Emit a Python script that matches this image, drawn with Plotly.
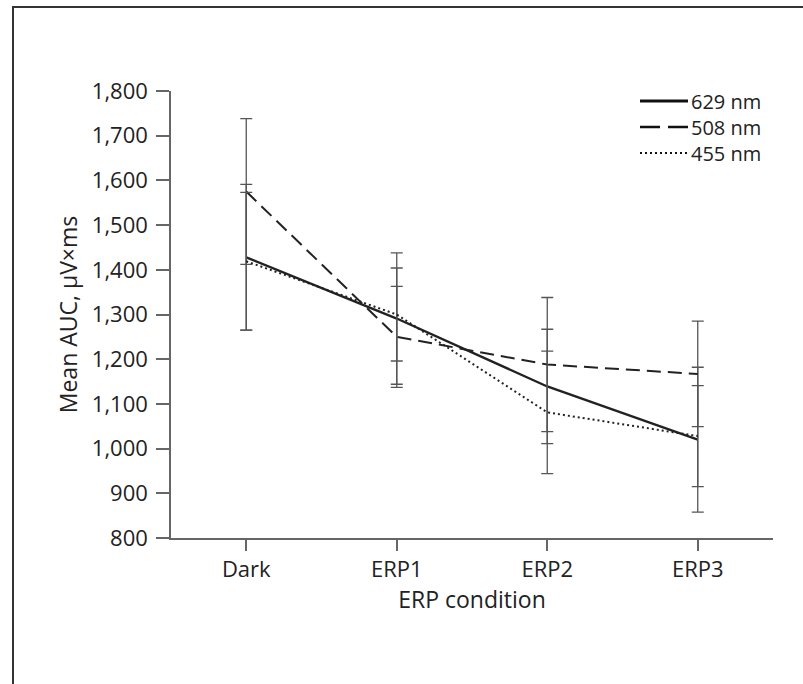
import plotly.graph_objects as go

categories = ["Dark", "ERP1", "ERP2", "ERP3"]
series_names = ["629 nm", "508 nm", "455 nm"]
mean_629 = [1428, 1291, 1139, 1020]
mean_508 = [1575, 1250, 1188, 1167]
mean_455 = [1419, 1300, 1081, 1028]
err_629 = [163, 147, 128, 162]
err_508 = [163, 113, 150, 118]
err_455 = [154, 104, 137, 113]
y_ticks = [800, 900, 1000, 1100, 1200, 1300, 1400, 1500, 1600, 1700, 1800]

FONT = "Open Sans"
FS = 22
FT = 23
FL = 20
means = [mean_629, mean_508, mean_455]
errs = [err_629, err_508, err_455]
dashes = ["solid", "14px,7px", "2px,3px"]
widths = [2.4, 2.0, 2.0]
legend_dashes = ["solid", "20px,8px", "2px,3px"]
legend_widths = [3.0, 2.4, 2.0]

L, T, PW, PH = 171, 91, 602, 447


def px_x(p):
    return (p - L) / PW


def px_y(p):
    return 1 - (p - T) / PH


fig = go.Figure()
for name, m, e, d, w in zip(series_names, means, errs, dashes, widths):
    fig.add_trace(go.Scatter(
        x=categories, y=m, name=name, mode="lines", showlegend=False,
        line=dict(color="#222222", width=w, dash=d),
        error_y=dict(type="data", array=e, visible=True,
                     color="#555555", thickness=1.3, width=6),
    ))

# legend drawn as line samples + text
for i, (name, d, w) in enumerate(zip(series_names, legend_dashes, legend_widths)):
    yc = px_y(101 + 26 * i)
    fig.add_shape(type="line", xref="paper", yref="paper",
                  x0=px_x(640), x1=px_x(688), y0=yc, y1=yc,
                  line=dict(color="#111111", width=w, dash=d))
    fig.add_annotation(xref="paper", yref="paper", x=px_x(690), y=yc,
                       text=name, showarrow=False, xanchor="left", yanchor="middle",
                       borderpad=0,
                       font=dict(family=FONT, size=FL, color="#222222"))

fig.update_layout(
    width=803, height=684,
    margin=dict(l=L, r=803 - L - PW, t=T, b=684 - T - PH),
    paper_bgcolor="white", plot_bgcolor="white",
    font=dict(family=FONT, size=FS, color="#222222"),
    showlegend=False,
    xaxis=dict(
        type="category", range=[-0.5, 3.5],
        showline=True, linecolor="#666666", linewidth=1.5,
        ticks="outside", ticklen=11, tickcolor="#666666", tickwidth=1.5,
        showgrid=False, zeroline=False,
        title=dict(text="ERP condition", font=dict(size=FT), standoff=2),
        tickfont=dict(size=FS),
    ),
    yaxis=dict(
        range=[800, 1800], tickvals=y_ticks,
        tickformat=",d",
        showline=True, linecolor="#666666", linewidth=1.5,
        ticks="outside", ticklen=13, tickcolor="#666666", tickwidth=1.5,
        ticklabelstandoff=4,
        showgrid=False, zeroline=False,
        title=dict(text="Mean AUC, µV×ms", font=dict(size=FT), standoff=8),
        tickfont=dict(size=FS),
    ),
)

fig.add_shape(type="rect", xref="paper", yref="paper",
              x0=px_x(13), x1=1.2, y0=-0.6, y1=px_y(7),
              line=dict(color="#333333", width=2), layer="below")

fig.write_html("out.html", config={"displayModeBar": False},
               post_script="document.body.style.margin='0';document.body.style.padding='0';")
